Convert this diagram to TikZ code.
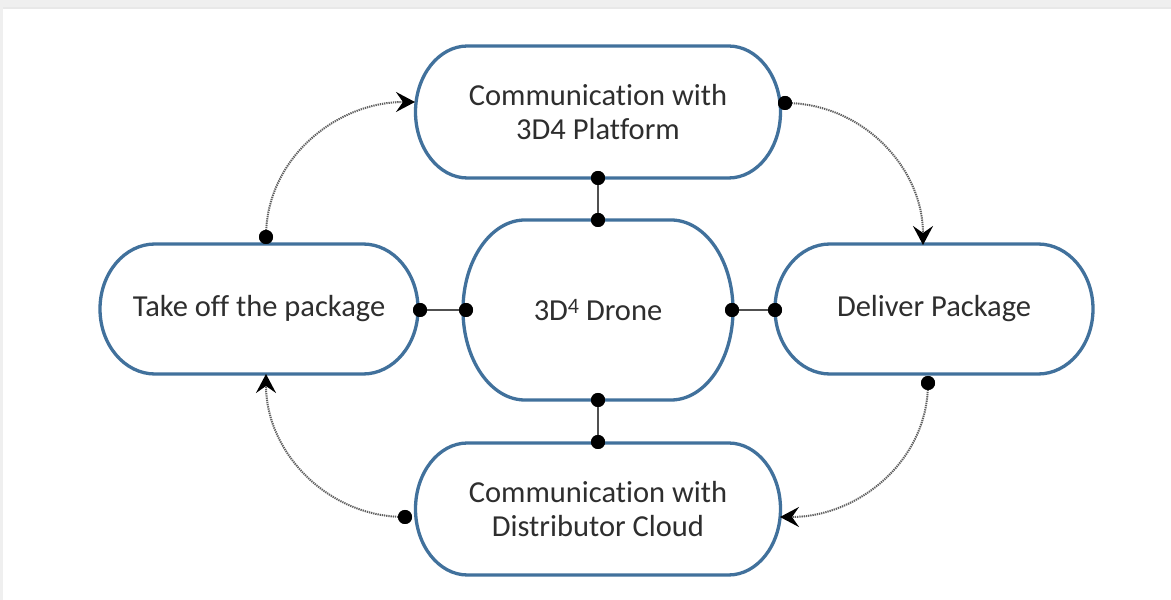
\documentclass[tikz,border=0pt]{standalone}
\usepackage{fontspec}
\setmainfont[RawFeature={-liga;-clig;-dlig;-calt}]{Carlito}
\usetikzlibrary{arrows.meta}

\definecolor{pillblue}{HTML}{41719C}
\definecolor{labelgray}{HTML}{2E2E2E}
\definecolor{linkgray}{HTML}{505050}
\definecolor{flowgray}{HTML}{606060}
\definecolor{framegray}{HTML}{EFEFEF}

\tikzset{
  pilltext/.style={draw=none, inner sep=0pt, align=center, text=labelgray,
    font=\fontsize{30.5}{34}\selectfont},
  pillline/.style={draw=pillblue, line width=3.3pt, fill=white},
  dot/.style={circle, fill=black, inner sep=0pt, minimum size=14pt},
  link/.style={draw=linkgray, line width=2pt},
  flow/.style={draw=flowgray, line width=2pt, dash pattern=on 1.3pt off 0.9pt,
    -{Stealth[length=19pt, width=20pt, inset=7pt, black]}},
}

% stadium outline with elliptic ends: name, cx, cy, width, height, end radius, text
\newcommand{\pill}[7]{%
  \path[pillline] (#2-#4/2+#6, #3+#5/2) -- (#2+#4/2-#6, #3+#5/2)
    arc[start angle=90, end angle=-90, x radius=#6, y radius={#5/2}]
    -- (#2-#4/2+#6, #3-#5/2)
    arc[start angle=270, end angle=90, x radius=#6, y radius={#5/2}] -- cycle;
  \node[pilltext, minimum width=#4pt, minimum height=#5pt] (#1) at (#2,#3) {#7};%
}

\begin{document}
\begin{tikzpicture}[x=1pt, y=1pt]
  % page frame
  \useasboundingbox (0,0) rectangle (1171,600);
  \fill[white] (0,0) rectangle (1171,600);
  \fill[framegray] (0,592) rectangle (1171,600);
  \fill[black!9] (3,591) rectangle (1171,593);
  \fill[framegray] (0,0) rectangle (3,600);

  % stages
  \pill{platform}{598}{488}{365}{132}{52}{Communicat\kern0pt ion with\\3D4 Platform}
  \pill{drone}{598}{290}{270}{180}{62}{3D\raisebox{0.45ex}{\fontsize{22}{22}\selectfont 4} Drone}
  \pill{takeoff}{259}{291}{318}{130}{55}{Take off the package}
  \pill{deliver}{934}{291}{318}{130}{55}{Deliver Package}
  \pill{cloud}{598}{91}{365}{132}{52}{Communicat\kern0pt ion with\\Distributor Cloud}

  % connection points
  \node[dot] (pS) at (598,422) {};
  \node[dot] (dN) at (598,380) {};
  \node[dot] (dW) at (466,290) {};
  \node[dot] (dE) at (732,290) {};
  \node[dot] (dS) at (598,200) {};
  \node[dot] (cN) at (598,158) {};
  \node[dot] (tE) at (420,290) {};
  \node[dot] (eW) at (775,290) {};
  \node[dot] (tN) at (266,363) {};
  \node[dot] (pE) at (785,497) {};
  \node[dot] (eS) at (928,217) {};
  \node[dot] (cW) at (405,83) {};

  % arrow targets on the stage outlines
  \coordinate (pW) at (415,498);
  \coordinate (eN) at (923,355);
  \coordinate (cE) at (780,83);
  \coordinate (tS) at (266,226);

  % cycle of stages
  \draw[flow] (tN.center) to[out=90, in=180] (pW);
  \draw[flow] (pE.center) to[out=0, in=90] (eN);
  \draw[flow] (eS.center) to[out=-90, in=0] (cE);
  \draw[flow] (cW.center) to[out=180, in=-90] (tS);

  % links to the drone
  \draw[link] (pS.center) -- (dN.center);
  \draw[link] (dS.center) -- (cN.center);
  \draw[link] (tE.center) -- (dW.center);
  \draw[link] (dE.center) -- (eW.center);

  % dots on top of the lines
  \foreach \d in {pS,dN,dW,dE,dS,cN,tE,eW,tN,pE,eS,cW}
    \fill (\d) circle[radius=7pt];
\end{tikzpicture}
\end{document}
